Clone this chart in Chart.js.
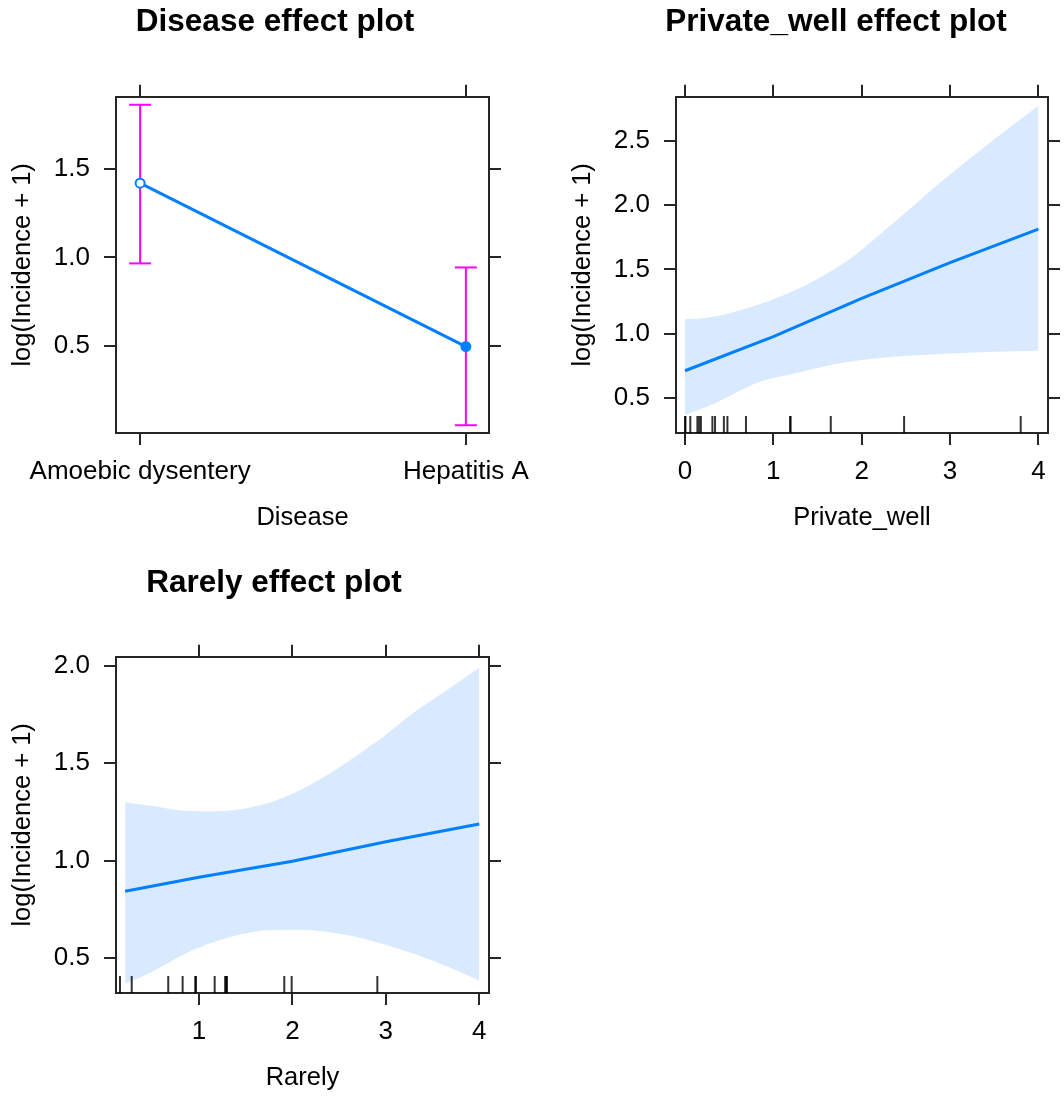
<!DOCTYPE html>
<html><head><meta charset="utf-8">
<script src="https://cdn.jsdelivr.net/npm/chart.js@4.4.1/dist/chart.umd.min.js"></script>
<style>
html,body{margin:0;padding:0;background:#fff;overflow:hidden;width:1064px;height:1099px;}
canvas{position:absolute;}
</style></head><body>
<canvas id="c1" width="550" height="533" style="left:0px;top:0px"></canvas>
<canvas id="c2" width="552" height="533" style="left:560px;top:0px"></canvas>
<canvas id="c3" width="548" height="532" style="left:0px;top:561px"></canvas>
<script>
// ---- Disease panel ----
const diseaseCategories = ['Amoebic dysentery', 'Hepatitis A'];
const diseaseFit = [1.42, 0.495];
const diseaseLower = [0.966, 0.05];
const diseaseUpper = [1.864, 0.943];
const diseaseYTicks = [0.5, 1.0, 1.5];

// ---- Private_well panel ----
const wellX = [0, 1, 2, 3, 4];
const wellFit = [0.714, 0.978, 1.276, 1.553, 1.812];
const wellBandX = [0, 0.3, 0.85, 1.25, 1.8, 2.35, 2.9, 3.5, 4];
const wellUpper = [1.113, 1.13, 1.232, 1.34, 1.55, 1.855, 2.18, 2.51, 2.77];
const wellLower = [0.37, 0.45, 0.628, 0.694, 0.777, 0.822, 0.844, 0.862, 0.87];
const wellRug = [0.0, 0.005, 0.06, 0.14, 0.16, 0.18, 0.31, 0.34, 0.44, 0.48, 0.69, 1.19, 1.195, 1.65, 2.48, 3.80];
const wellXTicks = [0, 1, 2, 3, 4];
const wellYTicks = [0.5, 1.0, 1.5, 2.0, 2.5];

// ---- Rarely panel ----
const rarelyX = [0.21, 1, 2, 3, 4];
const rarelyFit = [0.843, 0.915, 0.997, 1.097, 1.188];
const rarelyBandX = [0.21, 0.5, 0.85, 1.2, 1.55, 1.9, 2.25, 2.6, 2.95, 3.3, 3.65, 4.0];
const rarelyUpper = [1.30, 1.28, 1.256, 1.253, 1.273, 1.323, 1.405, 1.51, 1.628, 1.76, 1.875, 1.99];
const rarelyLower = [0.369, 0.43, 0.522, 0.589, 0.632, 0.645, 0.641, 0.617, 0.575, 0.522, 0.458, 0.385];
const rarelyRug = [0.155, 0.28, 0.671, 0.825, 0.96, 0.968, 1.168, 1.28, 1.29, 1.30, 1.913, 1.992, 2.909];
const rarelyXTicks = [1, 2, 3, 4];
const rarelyYTicks = [0.5, 1.0, 1.5, 2.0];

const FONT = "'Liberation Sans', Arial, Helvetica, sans-serif";
const LINE_BLUE = '#0080ff';
const BAND = 'rgb(217,234,255)';
const AXIS = '#262626';

const rugPlugin = {
  id: 'rug',
  afterDatasetsDraw(chart, args, opts) {
    const vals = opts.values || [];
    if (!vals.length) return;
    const xs = chart.scales.x, area = chart.chartArea, ctx = chart.ctx;
    ctx.save();
    ctx.strokeStyle = 'rgba(0,0,0,0.8)';
    ctx.lineWidth = 2;
    vals.forEach(v => {
      const px = xs.getPixelForValue(v);
      ctx.beginPath();
      ctx.moveTo(px, area.bottom);
      ctx.lineTo(px, area.bottom - 17);
      ctx.stroke();
    });
    ctx.restore();
  }
};

function setTicks(vals) { return scale => { scale.ticks = vals.map(v => ({ value: v })); }; }

function buildOptions(cfg) {
  const grid = { display: true, drawOnChartArea: false, drawTicks: true, tickLength: 12, color: AXIS, lineWidth: 2 };
  const border = { display: true, color: AXIS, width: 2 };
  const tickFont = { family: FONT, size: 26, lineHeight: 1.2 };
  const titleFont = { family: FONT, size: 25.5, lineHeight: 1.2 };
  return {
    responsive: false, animation: false, devicePixelRatio: 1,
    layout: { padding: 0 },
    plugins: {
      legend: { display: false }, tooltip: { enabled: false },
      title: { display: true, text: cfg.title, color: '#000',
        font: { family: FONT, size: 31.5, weight: 'bold', lineHeight: 1.2 },
        padding: { top: 3, bottom: cfg.titlePadBottom } },
      rug: { values: cfg.rug || [] }
    },
    scales: {
      x: { type: 'linear', position: 'bottom', bounds: 'data', min: cfg.xMin, max: cfg.xMax,
        afterBuildTicks: setTicks(cfg.xTicks), afterFit: s => { s.height = cfg.xHeight; },
        grid, border,
        ticks: { color: '#000', font: tickFont, padding: cfg.xPad, maxRotation: 0, autoSkip: false, callback: cfg.xFmt },
        title: { display: true, text: cfg.xTitle, color: '#000', font: titleFont, padding: 0 } },
      x2: { type: 'linear', position: 'top', bounds: 'data', min: cfg.xMin, max: cfg.xMax,
        afterBuildTicks: setTicks(cfg.xTicks), afterFit: s => { s.height = 12; },
        grid, border, ticks: { display: false } },
      y: { type: 'linear', position: 'left', bounds: 'data', min: cfg.yMin, max: cfg.yMax,
        afterBuildTicks: setTicks(cfg.yTicks), afterFit: s => { s.width = 116; },
        grid, border,
        ticks: { color: '#000', font: tickFont, padding: 14, callback: v => Number(v).toFixed(1) },
        title: { display: true, text: 'log(Incidence + 1)', color: '#000', font: titleFont, padding: { top: 8, bottom: 0 } } },
      y2: { type: 'linear', position: 'right', bounds: 'data', min: cfg.yMin, max: cfg.yMax,
        afterBuildTicks: setTicks(cfg.yTicks), afterFit: s => { s.width = cfg.rightWidth; },
        grid, border, ticks: { display: false } }
    }
  };
}

function pts(xs, ys) { return xs.map((x, i) => ({ x: x, y: ys[i] })); }

// ---- Chart 1: Disease ----
const diseaseIdx = diseaseCategories.map((c, i) => i);
const errDatasets = diseaseIdx.map(i => ({
  type: 'line', data: [{ x: i, y: diseaseLower[i] }, { x: i, y: diseaseUpper[i] }],
  borderColor: '#ff00ff', borderWidth: 2, fill: false,
  pointStyle: 'line', pointRadius: 11, pointBorderColor: '#ff00ff', pointBorderWidth: 2,
  xAxisID: 'x', yAxisID: 'y', clip: false
}));
new Chart(document.getElementById('c1'), {
  type: 'line',
  data: { datasets: [
    { data: pts(diseaseIdx, diseaseFit), borderColor: LINE_BLUE, borderWidth: 3, fill: false,
      pointRadius: 4.5, pointBorderWidth: 2, pointBorderColor: LINE_BLUE,
      pointBackgroundColor: ['#ffffff', LINE_BLUE], xAxisID: 'x', yAxisID: 'y', clip: false },
    ...errDatasets
  ] },
  options: buildOptions({ title: 'Disease effect plot', titlePadBottom: 44, rightWidth: 61, xHeight: 100, xPad: 11,
    xMin: -0.074, xMax: 1.071, xTicks: diseaseIdx, xFmt: v => diseaseCategories[Math.round(v)] || '',
    xTitle: 'Disease', yMin: 0.006, yMax: 1.909, yTicks: diseaseYTicks }),
  plugins: [rugPlugin]
});

// ---- Chart 2: Private_well ----
new Chart(document.getElementById('c2'), {
  type: 'line',
  data: { datasets: [
    { data: pts(wellX, wellFit), borderColor: LINE_BLUE, borderWidth: 3, fill: false, pointRadius: 0, xAxisID: 'x', yAxisID: 'y' },
    { data: pts(wellBandX, wellLower), borderWidth: 0, borderColor: 'rgba(0,0,0,0)', pointRadius: 0, fill: false,
      cubicInterpolationMode: 'monotone', xAxisID: 'x', yAxisID: 'y' },
    { data: pts(wellBandX, wellUpper), borderWidth: 0, borderColor: 'rgba(0,0,0,0)', pointRadius: 0, fill: '-1',
      backgroundColor: BAND, cubicInterpolationMode: 'monotone', xAxisID: 'x', yAxisID: 'y' }
  ] },
  options: buildOptions({ title: 'Private_well effect plot', titlePadBottom: 44, rightWidth: 64, xHeight: 100, xPad: 11,
    xMin: -0.102, xMax: 4.109, xTicks: wellXTicks, xFmt: v => String(v),
    xTitle: 'Private_well', yMin: 0.231, yMax: 2.839, yTicks: wellYTicks, rug: wellRug }),
  plugins: [rugPlugin]
});

// ---- Chart 3: Rarely ----
new Chart(document.getElementById('c3'), {
  type: 'line',
  data: { datasets: [
    { data: pts(rarelyX, rarelyFit), borderColor: LINE_BLUE, borderWidth: 3, fill: false, pointRadius: 0, xAxisID: 'x', yAxisID: 'y' },
    { data: pts(rarelyBandX, rarelyLower), borderWidth: 0, borderColor: 'rgba(0,0,0,0)', pointRadius: 0, fill: false,
      cubicInterpolationMode: 'monotone', xAxisID: 'x', yAxisID: 'y' },
    { data: pts(rarelyBandX, rarelyUpper), borderWidth: 0, borderColor: 'rgba(0,0,0,0)', pointRadius: 0, fill: '-1',
      backgroundColor: BAND, cubicInterpolationMode: 'monotone', xAxisID: 'x', yAxisID: 'y' }
  ] },
  options: buildOptions({ title: 'Rarely effect plot', titlePadBottom: 43, rightWidth: 59, xHeight: 100, xPad: 11.5,
    xMin: 0.112, xMax: 4.104, xTicks: rarelyXTicks, xFmt: v => String(v),
    xTitle: 'Rarely', yMin: 0.321, yMax: 2.046, yTicks: rarelyYTicks, rug: rarelyRug }),
  plugins: [rugPlugin]
});
</script>
</body></html>
